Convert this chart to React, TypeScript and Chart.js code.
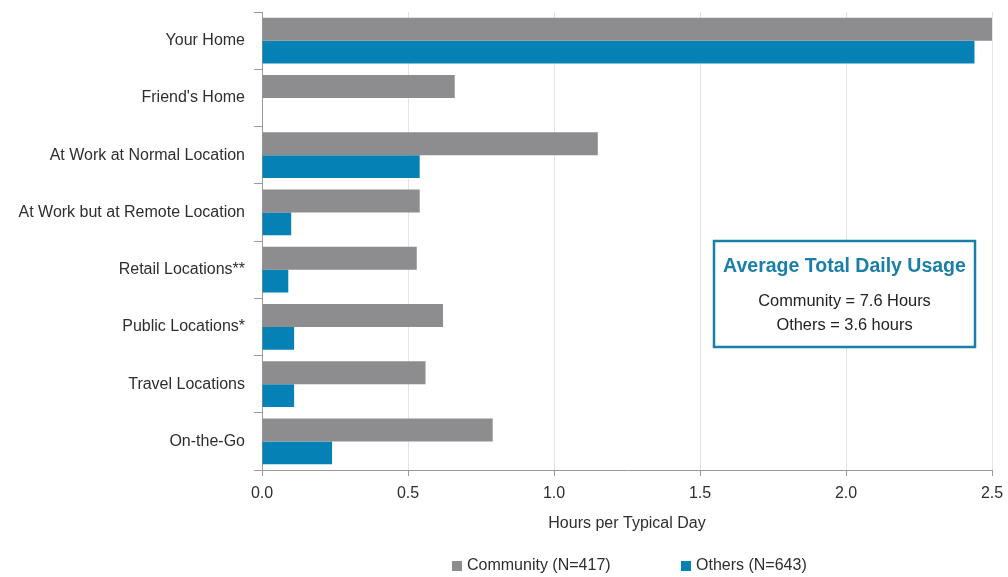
import React, { useEffect, useRef } from "react";
import { Chart, registerables } from "chart.js";

Chart.register(...registerables);

const categories = [
  "Your Home",
  "Friend's Home",
  "At Work at Normal Location",
  "At Work but at Remote Location",
  "Retail Locations**",
  "Public Locations*",
  "Travel Locations",
  "On-the-Go",
];
const communityHours = [2.5, 0.66, 1.15, 0.54, 0.53, 0.62, 0.56, 0.79];
const othersHours = [2.44, 0, 0.54, 0.1, 0.09, 0.11, 0.11, 0.24];
const seriesNames = ["Community (N=417)", "Others (N=643)"];
const xTicks = [0, 0.5, 1, 1.5, 2, 2.5];
const boxTitle = "Average Total Daily Usage";
const boxLines = ["Community = 7.6 Hours", "Others = 3.6 hours"];

const GRAY = "#8d8d90";
const BLUE = "#0581b5";
const TEAL = "#1a7fa8";
const TEXT = "#2e2e2e";
const FONT = "'Liberation Sans', Arial, sans-serif";

// Summary box inside the plot area plus the custom bottom legend
const overlayPlugin = {
  id: "overlay",
  afterDraw(chart: any) {
    const { ctx, chartArea } = chart;
    const left = chartArea.left + 452;
    const top = chartArea.top + 229;
    const w = 261;
    const h = 106;
    ctx.save();
    ctx.fillStyle = "#ffffff";
    ctx.fillRect(left, top, w, h);
    ctx.strokeStyle = TEAL;
    ctx.lineWidth = 2.5;
    ctx.strokeRect(left, top, w, h);
    ctx.textAlign = "center";
    ctx.textBaseline = "middle";
    ctx.fillStyle = TEAL;
    ctx.font = `bold 19.5px ${FONT}`;
    ctx.fillText(boxTitle, left + w / 2, top + 26);
    ctx.fillStyle = "#222";
    ctx.font = `16.4px ${FONT}`;
    boxLines.forEach((line, i) => {
      ctx.fillText(line, left + w / 2, top + 60 + i * 24);
    });

    // legend
    const colors = [GRAY, BLUE];
    const legendX = [452, 681];
    const ly = 566;
    ctx.textAlign = "left";
    ctx.font = `16px ${FONT}`;
    seriesNames.forEach((name, i) => {
      ctx.fillStyle = colors[i];
      ctx.fillRect(legendX[i], ly - 5, 10, 10);
      ctx.fillStyle = TEXT;
      ctx.fillText(name, legendX[i] + 15, ly);
    });
    ctx.restore();
  },
};

export default function App() {
  const canvasRef = useRef<HTMLCanvasElement>(null);

  useEffect(() => {
    const chart = new Chart(canvasRef.current!, {
      type: "bar",
      data: {
        labels: categories,
        datasets: [
          {
            label: seriesNames[0],
            data: communityHours,
            backgroundColor: GRAY,
            categoryPercentage: 0.8,
            barPercentage: 1,
          },
          {
            label: seriesNames[1],
            data: othersHours,
            backgroundColor: BLUE,
            categoryPercentage: 0.8,
            barPercentage: 1,
          },
        ],
      },
      options: {
        indexAxis: "y",
        animation: false,
        responsive: false,
        layout: { padding: { left: 0, right: 16, top: 12, bottom: 37 } },
        plugins: {
          legend: { display: false },
          tooltip: { enabled: false },
        },
        scales: {
          x: {
            min: 0,
            max: 2.5,
            afterBuildTicks: (scale: any) => {
              scale.ticks = xTicks.map((v) => ({ value: v }));
            },
            afterFit: (scale: any) => {
              scale.height = 70;
              scale.paddingLeft = 0;
              scale.paddingRight = 0;
            },
            ticks: {
              callback: (v: any) => Number(v).toFixed(1),
              color: TEXT,
              font: { family: FONT, size: 16 },
              padding: 8,
              maxRotation: 0,
            },
            grid: {
              color: "#e3e3e3",
              tickColor: "#9a9a9a",
              tickLength: 6,
            },
            border: { color: "#9a9a9a" },
            title: {
              display: true,
              text: "Hours per Typical Day",
              color: TEXT,
              font: { family: FONT, size: 16 },
              padding: { top: 0, bottom: 7 },
            },
          },
          y: {
            afterFit: (scale: any) => {
              scale.width = 262;
              scale.paddingTop = 0;
              scale.paddingBottom = 0;
            },
            ticks: {
              color: TEXT,
              font: { family: FONT, size: 16 },
              padding: 9,
            },
            grid: {
              drawOnChartArea: false,
              tickColor: "#9a9a9a",
              tickLength: 8,
              offset: true,
            },
            border: { color: "#9a9a9a" },
          },
        },
      },
      plugins: [overlayPlugin],
    });
    return () => chart.destroy();
  }, []);

  return (
    <div style={{ position: "absolute", left: 0, top: 0, width: 1008, height: 577, background: "#fff" }}>
      <canvas ref={canvasRef} width={1008} height={577} />
    </div>
  );
}
